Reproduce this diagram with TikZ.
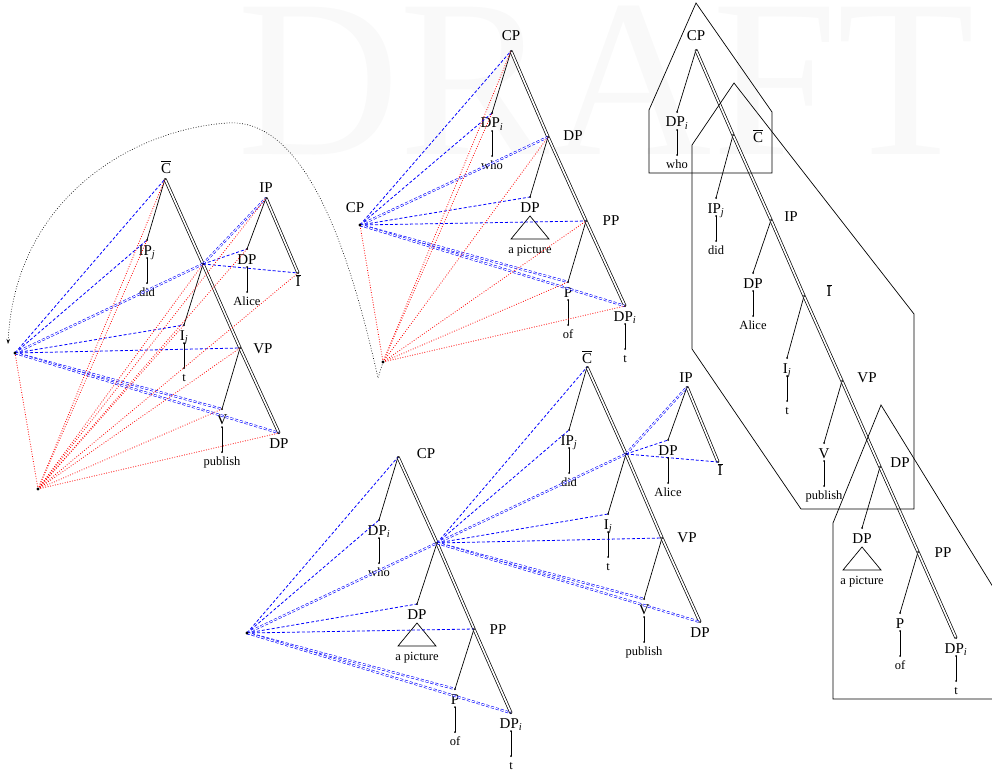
\documentclass[tikz,border=0pt]{standalone}
\usepackage{fontspec}
\setmainfont{Liberation Serif}
\usetikzlibrary{arrows.meta}

\newcommand\BigF{\fontsize{15}{17}\selectfont}
\newcommand\SmlF{\fontsize{12.5}{14}\selectfont}
\newcommand\LabDPi{DP\textsubscript{\itshape i}}
\newcommand\LabIPj{IP\textsubscript{\itshape j}}
\newcommand\LabIj{I\textsubscript{\itshape j}}
\newcommand\LabCbar{\ensuremath{\overline{\mbox{C}}}}
\newcommand\LabIbar{\ensuremath{\overline{\mbox{I}}}}

% a non-branching daughter: branch point, category label, stem, word
\newcommand\LeafKid[5]{%
  \coordinate (#1) at (#2,#3);
  \node[lab, anchor=base] (#1-l) at (#2,#3+15) {#4};
  \coordinate (#1-a) at (#2,#3+18);
  \coordinate (#1-b) at (#2,#3+43);
  \node[leaf, anchor=base] (#1-w) at (#2,#3+56) {#5};
  \draw[edge] (#1-a) -- (#1-b);}
% a DP daughter with a roof over "a picture"
\newcommand\TriKid[3]{%
  \coordinate (#1) at (#2,#3);
  \node[lab, anchor=base] (#1-l) at (#2,#3+15) {DP};
  \coordinate (#1-t) at (#2,#3+19);
  \draw[edge] (#1-t) -- ++(-19,23) -- ++(38,0) -- cycle;
  \node[leaf, anchor=base] (#1-w) at (#2,#3+56) {a picture};}
% last node of a spine, label underneath
\newcommand\EndLab[4]{%
  \coordinate (#1) at (#2,#3);
  \node[lab, anchor=base] (#1-l) at (#2,#3+15) {#4};}

\begin{document}
\begin{tikzpicture}[x=1pt,y=-1pt,
  lab/.style={font=\BigF, inner sep=0pt},
  leaf/.style={font=\SmlF, inner sep=0pt},
  edge/.style={line width=0.7pt},
  spine/.style={double, line width=0.7pt, double distance=1.7pt},
  bl/.style={blue, dash pattern=on 3pt off 2pt, line width=0.8pt},
  bld/.style={blue, dash pattern=on 3pt off 2pt, double=white, line width=0.6pt, double distance=1pt},
  rd/.style={red, dash pattern=on 0.8pt off 1.7pt, line width=0.8pt},
  curv/.style={black, dash pattern=on 0.8pt off 1.8pt, line width=0.6pt},
  frame/.style={line width=0.7pt},
  wm/.style={text=black!2.5, inner sep=0pt, font=\fontsize{225}{225}\selectfont},
]
\useasboundingbox (0,0) rectangle (992,773);
\clip (0,0) rectangle (992,773);

% watermark
\node[wm, anchor=base west] (wm) at (237,154) {DRAFT};

% ---------- tree a: CP / DP / PP ----------
\coordinate (a0) at (511,51);  \node[lab,anchor=base] (a0-l) at (511,41) {CP};
\LeafKid{a0L}{492}{113}{\LabDPi}{who}
\coordinate (a1) at (548,137); \node[lab,anchor=base] (a1-l) at (573,140) {DP};
\TriKid{a1L}{530}{197}
\coordinate (a2) at (586,221); \node[lab,anchor=base] (a2-l) at (611,225) {PP};
\LeafKid{a2L}{568}{282}{P}{of}
\LeafKid{a3}{625}{306}{\LabDPi}{t}
\draw[edge] (a0) -- (a0L) (a1) -- (a1L) (a2) -- (a2L);
\draw[spine] (a0) -- (a1) -- (a2) -- (a3);
\coordinate (F2) at (360,225); \node[lab,anchor=base] (F2-l) at (355,212) {CP};
\coordinate (R2) at (383,362);

% ---------- tree b ----------
\coordinate (b0) at (398,457); \node[lab,anchor=base] (b0-l) at (426,458) {CP};
\LeafKid{b0L}{379}{520}{\LabDPi}{who}
\coordinate (b1) at (437,543);
\TriKid{b1L}{417}{604}
\coordinate (b2) at (474,629); \node[lab,anchor=base] (b2-l) at (498,634) {PP};
\LeafKid{b2L}{455}{689}{P}{of}
\LeafKid{b3}{511}{713}{\LabDPi}{t}
\draw[edge] (b0) -- (b0L) (b1) -- (b1L) (b2) -- (b2L);
\draw[spine] (b0) -- (b1) -- (b2) -- (b3);
\coordinate (A) at (247,633);

% ---------- tree c (C-bar) with IP beside it ----------
\coordinate (c0) at (587,367); \node[lab,anchor=base] (c0-l) at (587,363) {\LabCbar};
\LeafKid{c0L}{569}{430}{\LabIPj}{did}
\coordinate (c1) at (626,454);
\LeafKid{c1L}{608}{514}{\LabIj}{t}
\coordinate (c2) at (662,538); \node[lab,anchor=base] (c2-l) at (687,542) {VP};
\LeafKid{c2L}{644}{599}{V}{publish}
\EndLab{c3}{700}{622}{DP}
\draw[edge] (c0) -- (c0L) (c1) -- (c1L) (c2) -- (c2L);
\draw[spine] (c0) -- (c1) -- (c2) -- (c3);
\coordinate (d0) at (687,387); \node[lab,anchor=base] (d0-l) at (686,382) {IP};
\LeafKid{d0L}{668}{440}{DP}{Alice}
\coordinate (d0R) at (718,462); \node[lab,anchor=base] (d0R-l) at (720,475) {\LabIbar};
\draw[edge] (d0) -- (d0L);
\draw[spine] (d0) -- (d0R);

% ---------- tree e (C-bar) with IP beside it ----------
\coordinate (e0) at (165,179); \node[lab,anchor=base] (e0-l) at (166,173) {\LabCbar};
\LeafKid{e0L}{147}{240}{\LabIPj}{did}
\coordinate (e1) at (203,264);
\LeafKid{e1L}{184}{325}{\LabIj}{t}
\coordinate (e2) at (240,348); \node[lab,anchor=base] (e2-l) at (263,353) {VP};
\LeafKid{e2L}{222}{409}{V}{publish}
\EndLab{e3}{279}{433}{DP}
\draw[edge] (e0) -- (e0L) (e1) -- (e1L) (e2) -- (e2L);
\draw[spine] (e0) -- (e1) -- (e2) -- (e3);
\coordinate (f0) at (266,198); \node[lab,anchor=base] (f0-l) at (266,192) {IP};
\LeafKid{f0L}{247}{249}{DP}{Alice}
\coordinate (f0R) at (298,273); \node[lab,anchor=base] (f0R-l) at (298,286) {\LabIbar};
\draw[edge] (f0) -- (f0L);
\draw[spine] (f0) -- (f0R);
\coordinate (F1) at (15,353);
\coordinate (R1) at (38,489);

% ---------- full tree g ----------
\coordinate (g0) at (696,50);  \node[lab,anchor=base] (g0-l) at (696,41) {CP};
\LeafKid{g0L}{677}{112}{\LabDPi}{who}
\coordinate (g1) at (733,135); \node[lab,anchor=base] (g1-l) at (758,142) {\LabCbar};
\LeafKid{g1L}{716}{198}{\LabIPj}{did}
\coordinate (g2) at (771,220); \node[lab,anchor=base] (g2-l) at (791,221) {IP};
\LeafKid{g2L}{753}{273}{DP}{Alice}
\coordinate (g3) at (804,296); \node[lab,anchor=base] (g3-l) at (829,296) {\LabIbar};
\LeafKid{g3L}{787}{358}{\LabIj}{t}
\coordinate (g4) at (842,381); \node[lab,anchor=base] (g4-l) at (867,382) {VP};
\LeafKid{g4L}{824}{443}{V}{publish}
\coordinate (g5) at (880,467); \node[lab,anchor=base] (g5-l) at (900,467) {DP};
\TriKid{g5L}{862}{528}
\coordinate (g6) at (918,552); \node[lab,anchor=base] (g6-l) at (943,557) {PP};
\LeafKid{g6L}{900}{613}{P}{of}
\LeafKid{g7}{956}{638}{\LabDPi}{t}
\draw[edge] (g0) -- (g0L) (g1) -- (g1L) (g2) -- (g2L) (g3) -- (g3L)
            (g4) -- (g4L) (g5) -- (g5L) (g6) -- (g6L);
\draw[spine] (g0) -- (g1) -- (g2) -- (g3) -- (g4) -- (g5) -- (g6) -- (g7);

% phase outlines
\draw[frame] (696,3) -- (772,112) -- (772,173) -- (649,173) -- (649,110) -- cycle;
\draw[frame] (734,83) -- (914,314) -- (914,509) -- (801,509) -- (692,349) -- (692,145) -- cycle;
\draw[frame] (881,405) -- (1062,699) -- (833,699) -- (833,523) -- cycle;

% ---------- dashed blue links ----------
\foreach \t in {a0,a0L,a1L,a2} \draw[bl] (F2) -- (\t);
\foreach \t in {a1,a2L,a3}     \draw[bld] (F2) -- (\t);
\foreach \t in {b0,b0L,b1L,b2} \draw[bl] (A) -- (\t);
\foreach \t in {b1,b2L,b3}     \draw[bld] (A) -- (\t);
\foreach \t in {c0,c0L,c1L,c2} \draw[bl] (b1) -- (\t);
\foreach \t in {c1,c2L,c3}     \draw[bld] (b1) -- (\t);
\draw[bld] (c1) -- (d0);
\foreach \t in {d0L,d0R}       \draw[bl] (c1) -- (\t);
\foreach \t in {e0,e0L,e1L,e2} \draw[bl] (F1) -- (\t);
\foreach \t in {e1,e2L,e3}     \draw[bld] (F1) -- (\t);
\draw[bld] (e1) -- (f0);
\foreach \t in {f0L,f0R}       \draw[bl] (e1) -- (\t);

% ---------- dotted red links ----------
\foreach \t in {F2,a0,a0L,a1,a2,a2L,a3} \draw[rd] (R2) -- (\t);
\foreach \t in {F1,e0,e0L,e1,f0,f0L,f0R,e1L,e2,e2L,e3} \draw[rd] (R1) -- (\t);

% dotted arc back to the left group
\coordinate (dip) at (378,378);
\coordinate (arcend) at (8,344);
\draw[curv, -{Stealth[open,length=5pt,width=3.5pt]}]
  (R2) -- (dip) .. controls (345,230) and (300,118) .. (227,123)
  .. controls (130,130) and (15,200) .. (arcend);

% branch points
\foreach \p in {a0,a1,a2,a3,a0L,a1L,a2L,b0,b1,b2,b3,b0L,b1L,b2L,
                c0,c1,c2,c3,c0L,c1L,c2L,d0,d0L,d0R,
                e0,e1,e2,e3,e0L,e1L,e2L,f0,f0L,f0R,
                g0,g1,g2,g3,g4,g5,g6,g7,g0L,g1L,g2L,g3L,g4L,g5L,g6L,
                a0L-a,a0L-b,a2L-a,a2L-b,a3-a,a3-b,b0L-a,b0L-b,b2L-a,b2L-b,b3-a,b3-b,
                c0L-a,c0L-b,c1L-a,c1L-b,c2L-a,c2L-b,d0L-a,d0L-b,
                e0L-a,e0L-b,e1L-a,e1L-b,e2L-a,e2L-b,f0L-a,f0L-b,
                g0L-a,g0L-b,g1L-a,g1L-b,g2L-a,g2L-b,g3L-a,g3L-b,g4L-a,g4L-b,g6L-a,g6L-b,g7-a,g7-b}
  \fill (\p) circle (1pt);
\foreach \p in {F1,F2,A,R1,R2} \fill (\p) circle (1.7pt);
\end{tikzpicture}
\end{document}
